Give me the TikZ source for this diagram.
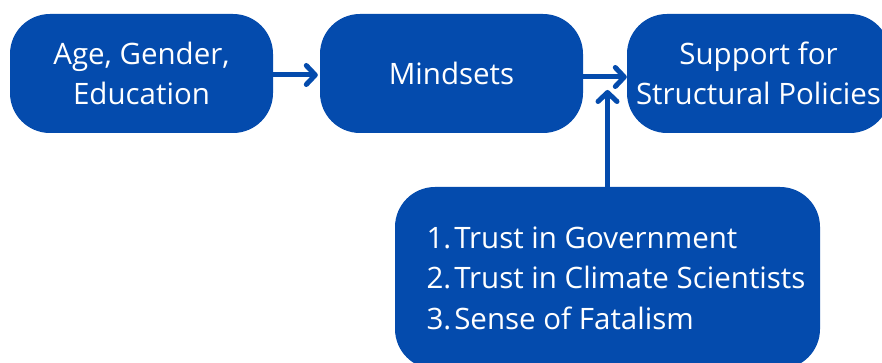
\documentclass[tikz,border=0pt]{standalone}
\usepackage{fontspec}
\setmainfont{Open Sans}
\usetikzlibrary{arrows.meta}
\definecolor{boxblue}{HTML}{044BAD}
\begin{document}
\begin{tikzpicture}[x=1pt,y=-1pt,
  blbox/.style={fill=boxblue, draw=none, rounded corners=40pt, text=white,
    align=center, font=\fontsize{29.5}{40}\selectfont, inner sep=0pt},
  conn/.style={draw=boxblue, line width=5pt,
    -{Straight Barb[length=9pt,width=19pt,line cap=round,line join=round]}}]
\useasboundingbox (0,0) rectangle (882,363);
\clip (0,0) rectangle (882,363);
\node[blbox, minimum width=263pt, minimum height=119pt] (demo) at (141.5,73.5) {Age, Gender,\\Education};
\node[blbox, minimum width=263pt, minimum height=119pt] (mind) at (451.5,73.5) {Mindsets};
\node[blbox, minimum width=263pt, minimum height=119pt] (supp) at (758.5,73.5) {Support for\\Structural Policies};
\node[blbox, minimum width=425pt, minimum height=182pt, align=left,
  font=\fontsize{29.5}{40.5}\selectfont] (trust) at (607.5,278)
  {\hspace*{17pt}1.\hspace{3pt}Trust in Government\\\hspace*{17pt}2.\hspace{3pt}Trust in Climate Scientists\\\hspace*{17pt}3.\hspace{3pt}Sense of Fatalism};
\coordinate (vtip) at (607.5,90);
\draw[conn, shorten >=2pt] (demo.east |- 0,75) -- (mind.west |- 0,75);
\draw[conn] (mind.east |- 0,77) -- (supp.west |- 0,77);
\draw[conn] (trust.north) -- (vtip);
\end{tikzpicture}
\end{document}
